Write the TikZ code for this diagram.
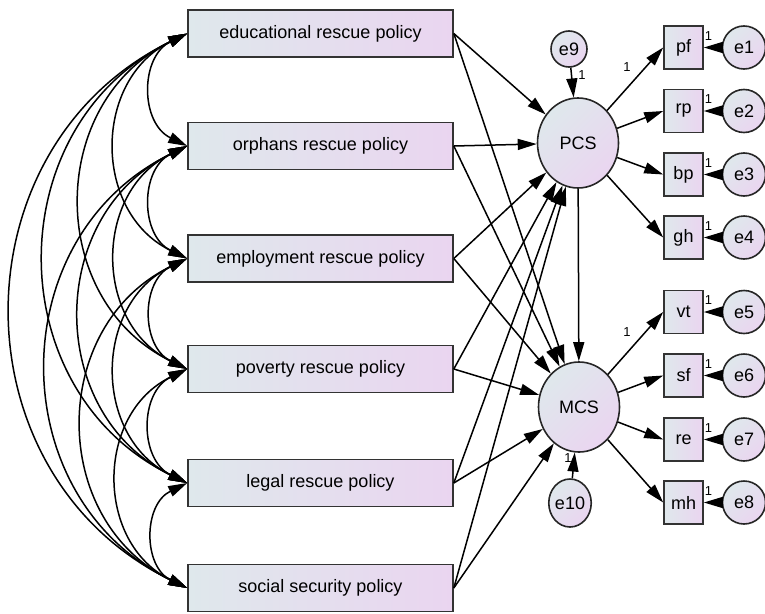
\documentclass[tikz,border=0pt]{standalone}
\usepackage{fontspec}
\setmainfont{Liberation Sans}
\usetikzlibrary{arrows.meta,shapes.geometric}
\definecolor{cL}{HTML}{DFE8EC}
\definecolor{cR}{HTML}{EAD5F0}
\begin{document}
\begin{tikzpicture}[x=1pt,y=-1pt,
  font=\fontsize{18}{21}\selectfont,
  obs/.style={draw=black!80, line width=1.6pt, left color=cL, right color=cR, minimum width=265pt, minimum height=47pt, inner sep=0pt},
  ind/.style={draw=black!80, line width=1.6pt, left color=cL, right color=cR, minimum width=39pt, minimum height=43pt, inner sep=0pt},
  lat/.style={ellipse, draw=black!85, line width=1.6pt, top color=cL, bottom color=cR, shading angle=45, minimum width=81pt, minimum height=90pt, inner sep=0pt},
  err/.style={ellipse, draw=black!85, line width=1.6pt, top color=cL, bottom color=cR, shading angle=45, inner sep=0pt},
  arr/.style={line width=1.5pt, -{Triangle[length=19pt,width=11pt]}},
  cov/.style={line width=1.5pt, {Triangle[length=19pt,width=11pt]}-{Triangle[length=19pt,width=11pt]}},
  one/.style={font=\fontsize{13}{14}\selectfont, inner sep=0pt}
]
\useasboundingbox (0,0) rectangle (765,613);

% observed policy boxes
\node[obs] (b1) at (320.5,33.5) {educational rescue policy};
\node[obs] (b2) at (320.5,146) {orphans rescue policy};
\node[obs] (b3) at (320.5,258.5) {employment rescue policy};
\node[obs] (b4) at (320.5,369) {poverty rescue policy};
\node[obs] (b5) at (320.5,483) {legal rescue policy};
\node[obs] (b6) at (320.5,588) {social security policy};

% latent
\node[lat] (pcs) at (578,143) {PCS};
\node[lat] (mcs) at (579,407) {MCS};
\node[err, minimum width=36pt, minimum height=36pt] (e9) at (569,49) {e9};
\node[err, minimum width=42pt, minimum height=48pt] (e10) at (570,503) {e10};

% indicators
\foreach \n/\y in {pf/47.5, rp/111, bp/174.5, gh/237.5, vt/312, sf/375.5, re/439.5, mh/502.5}
  \node[ind] (\n) at (683.5,\y) {\n};
\foreach \e/\y in {e1/47.5, e2/111, e3/174.5, e4/237.5, e5/312, e6/375.5, e7/439.5, e8/502.5}
  \node[err, minimum width=43pt, minimum height=43pt] (\e) at (744,\y) {\e};

% covariances
\foreach \i in {1,...,5}{
  \pgfmathtruncatemacro{\s}{\i+1}
  \foreach \j in {\s,...,6}{
    \draw[cov] (b\i.west) to[bend right=64, looseness=1.2] (b\j.west);
  }
}

% regressions from policies
\foreach \i in {1,...,6}{
  \draw[arr] (b\i.east) -- (pcs);
  \draw[arr] (b\i.east) -- (mcs);
}

\draw[arr] (pcs) -- (mcs);
\draw[arr] (e9) -- (pcs);
\draw[arr] (e10) -- (mcs);

\foreach \n in {pf,rp,bp,gh} \draw[arr] (pcs) -- (\n.west);
\foreach \n in {vt,sf,re,mh} \draw[arr] (mcs) -- (\n.west);

\foreach \e/\n in {e1/pf,e2/rp,e3/bp,e4/gh,e5/vt,e6/sf,e7/re,e8/mh}{
  \draw[arr] (\e) -- (\n);
}

% labels "1"
\foreach \y in {36,99.5,163,226,300.5,364,428,491}
  \node[one] (l\y) at (708.5,\y) {1};
\node[one] (lp) at (627,67) {1};
\node[one] (lm) at (627,332) {1};
\node[one] (l9) at (582,75) {1};
\node[one] (l10) at (568,458) {1};
\end{tikzpicture}
\end{document}
